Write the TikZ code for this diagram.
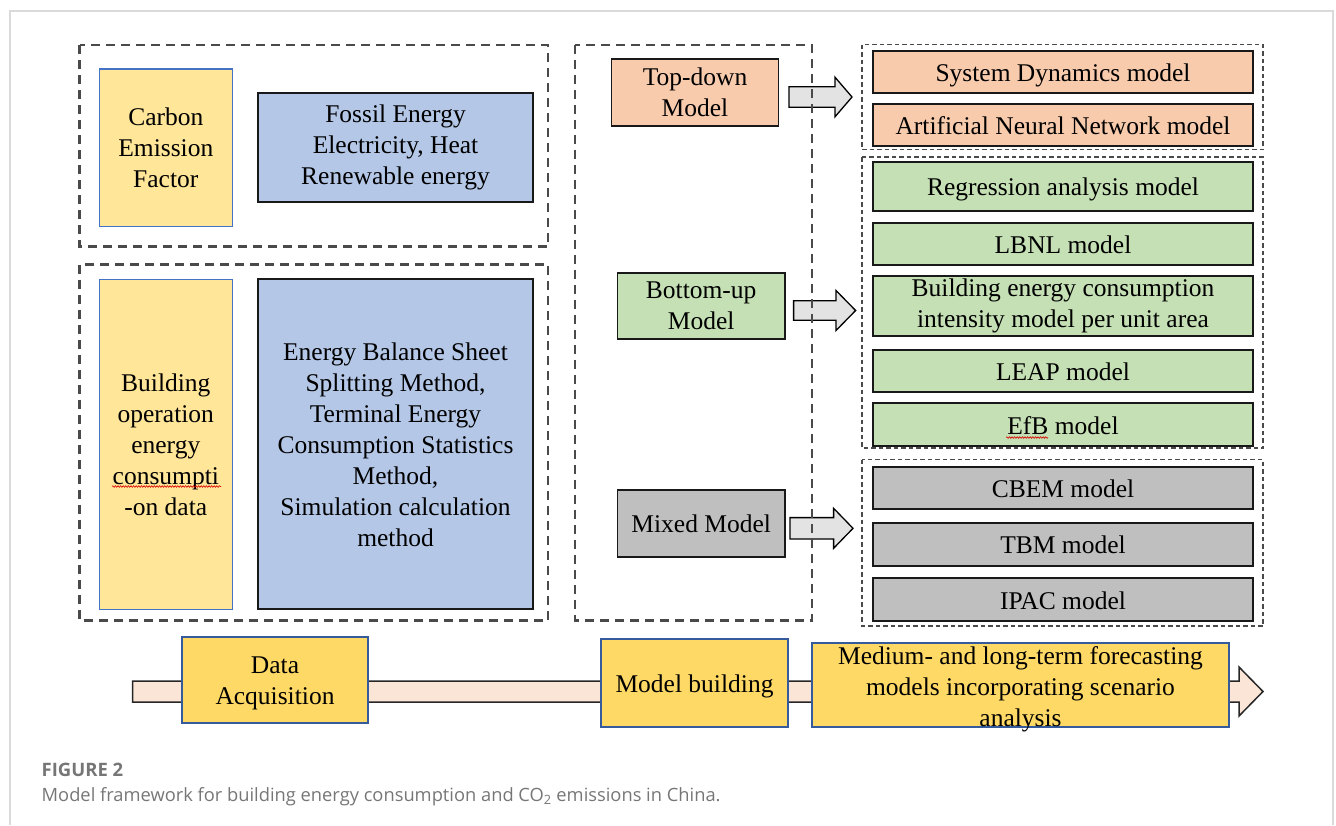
\documentclass[tikz,border=0pt]{standalone}
\usepackage{fontspec}
\setmainfont{Liberation Serif}
\newfontfamily\capfont{Open Sans}
\usetikzlibrary{calc,decorations.pathmorphing}
\definecolor{yelfill}{HTML}{FFE699}
\definecolor{bluefill}{HTML}{B4C7E7}
\definecolor{salmon}{HTML}{F8CBAD}
\definecolor{greenfill}{HTML}{C5E0B4}
\definecolor{grayfill}{HTML}{BFBFBF}
\definecolor{goldfill}{HTML}{FFD966}
\definecolor{peach}{HTML}{FBE5D6}
\definecolor{arrgray}{HTML}{E3E3E3}
\definecolor{edgeblue}{HTML}{4472C4}
\definecolor{dashgray}{HTML}{4A4A4A}
\definecolor{framegray}{HTML}{DADADA}
\definecolor{capgray}{HTML}{767676}
\newcommand\blockarr[7]{\draw[#1] (#2,#5-#6) -- (#3,#5-#6) -- (#3,#5-#7) -- (#4,#5) -- (#3,#5+#7) -- (#3,#5+#6) -- (#2,#5+#6) -- cycle;}
\begin{document}
\begin{tikzpicture}[x=1pt,y=-1pt,
  txt/.style={inner sep=0pt, align=center, font=\fontsize{25.5}{31}\selectfont},
  oneline/.style={text height=20pt, text depth=1pt},
  blackbox/.style={txt, draw=black!90, line width=1.8pt},
  ybox/.style={txt, draw=edgeblue, line width=1.3pt, fill=yelfill},
  gbox/.style={txt, draw=edgeblue!80!black, line width=1.3pt, fill=goldfill},
  bbox/.style={blackbox, fill=bluefill},
  sbox/.style={blackbox, fill=salmon},
  grbox/.style={blackbox, fill=greenfill},
  gybox/.style={blackbox, fill=grayfill},
  rbox/.style={minimum width=380pt, oneline},
  bigdash/.style={draw=dashgray, line width=2.2pt, dash pattern=on 9pt off 6pt},
  smalldash/.style={draw=dashgray, line width=1.4pt, dash pattern=on 4.5pt off 3pt},
  midarrow/.style={draw=black, line width=1.3pt, fill=arrgray, line join=miter},
  longarrow/.style={draw=black!85, line width=1.5pt, fill=peach, line join=miter},
  spell/.style={draw=red!85!black, line width=0.6pt, decorate, decoration={snake, segment length=2.6pt, amplitude=0.8pt}}
]
\useasboundingbox (0,0) rectangle (1336,825);
% outer frame
\draw[framegray, line width=2pt] (9.5,825) -- (9.5,10.5) -- (1333,10.5) -- (1333,825);

% long process arrow
\blockarr{longarrow}{132.5}{1239}{1263}{691.5}{10.5}{24.5}

% block arrows from the middle column
\blockarr{midarrow}{789}{835}{852}{97}{10.3}{19.8}
\blockarr{midarrow}{793.6}{836}{855.6}{310.5}{9.7}{20}
\blockarr{midarrow}{790}{833.6}{853}{528.3}{10.7}{20}

% dashed groups
\draw[bigdash] (79.5,45) rectangle (548,246.5);
\draw[bigdash] (79.5,264.5) rectangle (548,620.5);
\draw[bigdash] (575,45) rectangle (812,620.5);
\draw[smalldash] (862,44.5) rectangle (1263,149.5);
\draw[smalldash] (862,157) rectangle (1263,448);
\draw[smalldash] (862,459.5) rectangle (1263,626);

% left column
\node[ybox, minimum width=133pt, minimum height=157.7pt] (carbon) at (165.8,147.9) {Carbon\\Emission\\Factor};
\node[bbox, minimum width=274.6pt, minimum height=108.4pt] (fossil) at (395.5,147.5) {Fossil Energy\\Electricity, Heat\\Renewable energy};
\node[ybox, minimum width=133pt, minimum height=330pt] (opdata) at (165.8,444.3) {Building\\operation\\energy\\consumpti\\-on data};
\node[bbox, minimum width=274.4pt, minimum height=330pt] (methods) at (395.5,444.3) {Energy Balance Sheet\\Splitting Method,\\Terminal Energy\\Consumption Statistics\\Method,\\Simulation calculation\\method};
\draw[spell] (112,486.5) -- (221,486.5);

% middle column
\node[sbox, minimum width=167pt, minimum height=66.7pt] (topdown) at (695,92.7) {Top-down\\Model};
\node[grbox, minimum width=167.3pt, minimum height=66.3pt] (bottomup) at (701.2,305.8) {Bottom-up\\Model};
\node[gybox, oneline, minimum width=167.3pt, minimum height=66.7pt] (mixed) at (701.2,523.3) {Mixed Model};

% right column
\node[sbox, rbox, minimum height=42pt] (sd) at (1063,71.7) {System Dynamics model};
\node[sbox, rbox, minimum height=42pt] (ann) at (1063,125) {Artificial Neural Network model};
\node[grbox, rbox, minimum height=49.3pt] (reg) at (1063,186.3) {Regression analysis model};
\node[grbox, rbox, minimum height=42.3pt] (lbnl) at (1063,243.8) {LBNL model};
\node[grbox, minimum width=380pt, minimum height=60pt] (bec) at (1063,305.7) {Building energy consumption\\intensity model per unit area};
\node[grbox, rbox, minimum height=41.7pt] (leap) at (1063,370.8) {LEAP model};
\node[grbox, rbox, minimum height=42.4pt] (efb) at (1063,424.5) {EfB model};
\draw[spell] (1006,437.5) -- (1048,437.5);
\node[gybox, rbox, minimum height=42.6pt] (cbem) at (1063,488) {CBEM model};
\node[gybox, rbox, minimum height=43pt] (tbm) at (1063,544.2) {TBM model};
\node[gybox, rbox, minimum height=42.4pt] (ipac) at (1063,599.5) {IPAC model};

% bottom process
\node[gbox, minimum width=186pt, minimum height=86pt] (acq) at (275,680) {};
\node[txt] (acqtext) at ($(acq.center)+(0,3)$) {Data\\Acquisition};
\node[gbox, oneline, minimum width=187pt, minimum height=88pt] (mb) at (694.5,683) {Model building};
\node[gbox, minimum width=417pt, minimum height=84pt] (fc) at (1020.5,685) {};
\node[txt] (fctext) at ($(fc.center)+(0,4)$) {Medium- and long-term forecasting\\models incorporating scenario\\analysis};

% caption
\node[anchor=base west, inner sep=0pt, text=capgray, font=\capfont\bfseries\fontsize{18.5}{22}\selectfont] (fig) at (41.5,776) {FIGURE 2};
\node[anchor=base west, inner sep=0pt, text=capgray, font=\capfont\fontsize{18.3}{22}\selectfont] (cap) at (41.5,801) {Model framework for building energy consumption and CO\textsubscript{2} emissions in China.};
\end{tikzpicture}
\end{document}
